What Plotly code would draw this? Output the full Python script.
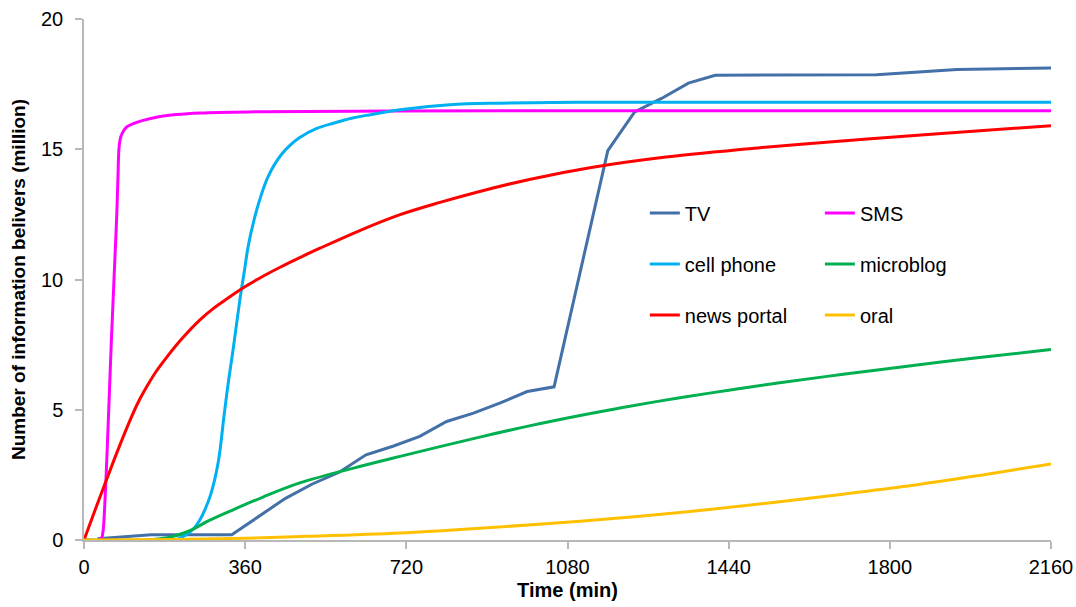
import plotly.graph_objects as go

# ---- data (time in minutes, believers in million) ----
tv_t = [30, 150, 330, 390, 450, 510, 570, 630, 690, 750, 810, 870, 930, 990, 1050,
        1170, 1230, 1290, 1350, 1410, 1770, 1950, 2160]
tv_v = [0.05, 0.2, 0.2, 0.9, 1.6, 2.15, 2.6, 3.27, 3.6, 3.98, 4.55, 4.87, 5.26, 5.7, 5.88,
        14.95, 16.43, 16.95, 17.54, 17.84, 17.86, 18.06, 18.12]

sms_t = [0, 36, 40, 43, 46, 49, 53, 57, 61, 65, 69, 73, 76, 78, 81, 85, 95, 110, 130,
         170, 260, 400, 700, 1200, 2160]
sms_v = [0, 0, 0.1, 0.4, 1.2, 2.3, 4.0, 5.8, 7.6, 9.2, 10.8, 12.4, 14.0, 15.0, 15.4, 15.6,
         15.85, 15.98, 16.1, 16.26, 16.39, 16.44, 16.47, 16.48, 16.48]

cp_t = [0, 200, 215, 230, 244, 258, 270, 284, 300, 313, 322, 333, 348, 358, 367, 380, 395,
        410, 425, 441, 460, 482, 520, 557, 600, 631, 706, 817, 929, 1100, 1500, 2160]
cp_v = [0, 0, 0.08, 0.22, 0.42, 0.75, 1.16, 1.8, 3.0, 4.8, 6.0, 7.3, 9.2, 10.3, 11.3, 12.3,
        13.2, 13.9, 14.4, 14.8, 15.15, 15.45, 15.8, 16.0, 16.2, 16.3, 16.52, 16.71, 16.77,
        16.8, 16.8, 16.8]

mb_t = [0, 140, 170, 199, 220, 244, 280, 333, 400, 482, 600, 706, 884, 1000, 1108, 1200,
        1331, 1440, 1554, 1700, 1852, 2000, 2160]
mb_v = [0, 0, 0.05, 0.14, 0.25, 0.42, 0.75, 1.16, 1.65, 2.19, 2.75, 3.21, 3.95, 4.4, 4.78,
        5.08, 5.46, 5.75, 6.04, 6.37, 6.7, 7.01, 7.31]

np_t = [0, 25, 50, 75, 103, 120, 140, 160, 185, 220, 259, 290, 321, 348, 392, 437, 482,
        527, 616, 706, 795, 884, 1000, 1130, 1300, 1510, 1700, 1900, 2160]
np_v = [0, 1.16, 2.3, 3.42, 4.6, 5.25, 5.88, 6.44, 7.02, 7.75, 8.45, 8.9, 9.28, 9.6, 10.05,
        10.46, 10.84, 11.2, 11.88, 12.49, 12.96, 13.38, 13.86, 14.29, 14.7, 15.06, 15.33,
        15.59, 15.9]

oral_t = [0, 200, 360, 500, 706, 884, 1108, 1331, 1554, 1700, 1852, 2000, 2160]
oral_v = [0, 0.02, 0.07, 0.14, 0.27, 0.45, 0.72, 1.06, 1.47, 1.77, 2.1, 2.48, 2.92]

x_ticks = [0, 360, 720, 1080, 1440, 1800, 2160]
y_ticks = [0, 5, 10, 15, 20]

FONT = "Liberation Sans, Arial, sans-serif"

series = [
    ("TV", tv_t, tv_v, "#4470a8", "linear", "legend"),
    ("SMS", sms_t, sms_v, "#ff00ff", "spline", "legend2"),
    ("cell phone", cp_t, cp_v, "#00b0f0", "spline", "legend"),
    ("microblog", mb_t, mb_v, "#00b050", "spline", "legend2"),
    ("news portal", np_t, np_v, "#ff0000", "spline", "legend"),
    ("oral", oral_t, oral_v, "#ffc000", "spline", "legend2"),
]

fig = go.Figure()
for name, t, v, color, shape, leg in series:
    line = dict(color=color, width=3, shape=shape)
    if shape == "spline":
        line["smoothing"] = 1.0
    fig.add_trace(go.Scatter(x=t, y=v, mode="lines", name=name, line=line,
                             legend=leg, legendgroup=name))

legend_common = dict(
    font=dict(family=FONT, size=20, color="#000000"),
    bgcolor="rgba(0,0,0,0)",
    tracegroupgap=22,
    itemwidth=30,
    xanchor="left",
    yanchor="top",
    orientation="v",
)

fig.update_layout(
    width=1076,
    height=607,
    margin=dict(l=84, r=25, t=19, b=67),
    paper_bgcolor="white",
    plot_bgcolor="white",
    font=dict(family=FONT, size=20, color="#000000"),
    showlegend=True,
    legend=dict(x=0.580, y=0.665, **legend_common),
    legend2=dict(x=0.761, y=0.665, **legend_common),
    xaxis=dict(
        range=[0, 2160],
        tickvals=x_ticks,
        ticktext=[str(v) for v in x_ticks],
        showgrid=False,
        zeroline=False,
        showline=True,
        linecolor="#b8b8b8",
        linewidth=1.5,
        ticks="outside",
        ticklen=7,
        tickcolor="#b8b8b8",
        tickwidth=1.5,
        ticklabelstandoff=1,
        tickfont=dict(family=FONT, size=20, color="#000000"),
        title=dict(text="<b>Time (min)</b>", font=dict(family=FONT, size=20, color="#000000"),
                   standoff=6),
        automargin=False,
    ),
    yaxis=dict(
        range=[0, 20],
        tickvals=y_ticks,
        showgrid=False,
        zeroline=False,
        showline=True,
        linecolor="#b8b8b8",
        linewidth=1.5,
        ticks="outside",
        ticklen=7,
        tickcolor="#b8b8b8",
        tickwidth=1.5,
        ticklabelstandoff=8,
        tickfont=dict(family=FONT, size=20, color="#000000"),
        title=dict(text="<b>Number of information belivers (million)</b>",
                   font=dict(family=FONT, size=19, color="#000000"), standoff=10),
        automargin=False,
    ),
)

fig.write_html("out.html", config={"displayModeBar": False},
               post_script="document.body.style.margin='0px';")
